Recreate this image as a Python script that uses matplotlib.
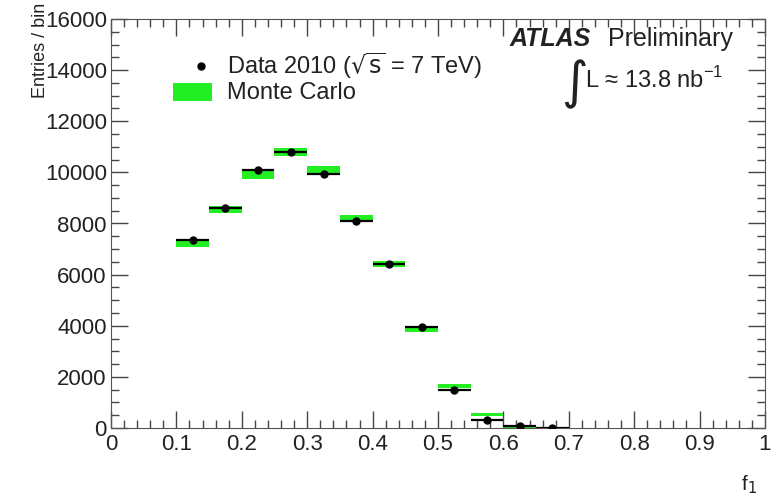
import numpy as np
import matplotlib.pyplot as plt
from matplotlib.ticker import MultipleLocator
from matplotlib.patches import Rectangle
from matplotlib.lines import Line2D

plt.rcParams['font.family'] = ['Liberation Sans', 'DejaVu Sans']

# bin centres (width 0.05)
f1 = [0.125, 0.175, 0.225, 0.275, 0.325, 0.375, 0.425, 0.475, 0.525, 0.575, 0.625, 0.675]
data = [7350, 8600, 10100, 10800, 9950, 8100, 6400, 3950, 1500, 330, 60, 15]
mc = [7250, 8550, 9900, 10800, 10100, 8200, 6400, 3850, 1650, 520, 40, 5]
mc_err = [150, 130, 160, 150, 160, 140, 120, 110, 90, 70, 30, 10]
bin_w = 0.05

narrow = ['Liberation Sans Narrow', 'Liberation Sans']
txtc = '#222222'

fig = plt.figure(figsize=(7.73, 5), dpi=100)
ax = fig.add_axes([0.1436, 0.144, 0.846, 0.818])

# Monte Carlo as green bands
for x, y, e in zip(f1, mc, mc_err):
    ax.add_patch(Rectangle((x - bin_w / 2, y - e), bin_w, 2 * e,
                           facecolor='#22ee22', edgecolor='none', zorder=2))

# data points with bin-width error bars
ax.errorbar(f1, data, xerr=bin_w / 2, fmt='o', color='black', ms=5,
            elinewidth=1.6, capsize=0, zorder=3)

ax.set_xlim(0, 1)
ax.set_ylim(0, 16000)
ax.xaxis.set_minor_locator(MultipleLocator(0.02))
ax.yaxis.set_major_locator(MultipleLocator(2000))
ax.yaxis.set_minor_locator(MultipleLocator(500))
ax.set_xticks(np.arange(0, 1.01, 0.1))
ax.set_xticklabels(['0', '0.1', '0.2', '0.3', '0.4', '0.5', '0.6', '0.7', '0.8', '0.9', '1'])
ax.tick_params(which='both', direction='in', top=True, right=True, colors='#444444',
               labelcolor=txtc)
ax.tick_params(which='major', length=12, width=1)
ax.tick_params(which='minor', length=6, width=1)
ax.tick_params(axis='x', pad=4, labelsize=16)
ax.tick_params(axis='y', pad=3, labelsize=16)
for lab in ax.get_yticklabels():
    lab.set_family(narrow)
for s in ax.spines.values():
    s.set_color('#555555')

ax.set_ylabel('Entries / bin', fontsize=13, color=txtc, family=narrow)
ax.yaxis.set_label_coords(-0.095, 1.04, transform=ax.transAxes)
ax.yaxis.label.set_va('bottom')
ax.yaxis.label.set_ha('right')
ax.set_xlabel('f$_1$', fontsize=15, color=txtc)
ax.xaxis.set_label_coords(0.975, -0.11)

# legend drawn by hand
ax.add_line(Line2D([0.138], [14150], marker='o', color='black', ms=5))
ax.add_patch(Rectangle((0.095, 12790), 0.06, 700, facecolor='#22ee22', edgecolor='none'))
ax.text(0.178, 14150, 'Data 2010 ($\\sqrt{\\rm s}$ = 7 TeV)', fontsize=17,
        va='center', color=txtc)
ax.text(0.178, 13120, 'Monte Carlo', fontsize=17, va='center', color=txtc)

ax.text(0.61, 15220, 'ATLAS', fontsize=18, fontweight='bold', style='italic',
        va='center', color=txtc)
ax.text(0.76, 15220, 'Preliminary', fontsize=18, va='center', color=txtc)
ax.text(0.688, 13450, '$\\int$', fontsize=26, va='center', color=txtc)
ax.text(0.725, 13600, 'L ≈ 13.8 nb$^{\\mathregular{-1}}$', fontsize=17, va='center',
        color=txtc)

fig.savefig('out.png', dpi=100)
